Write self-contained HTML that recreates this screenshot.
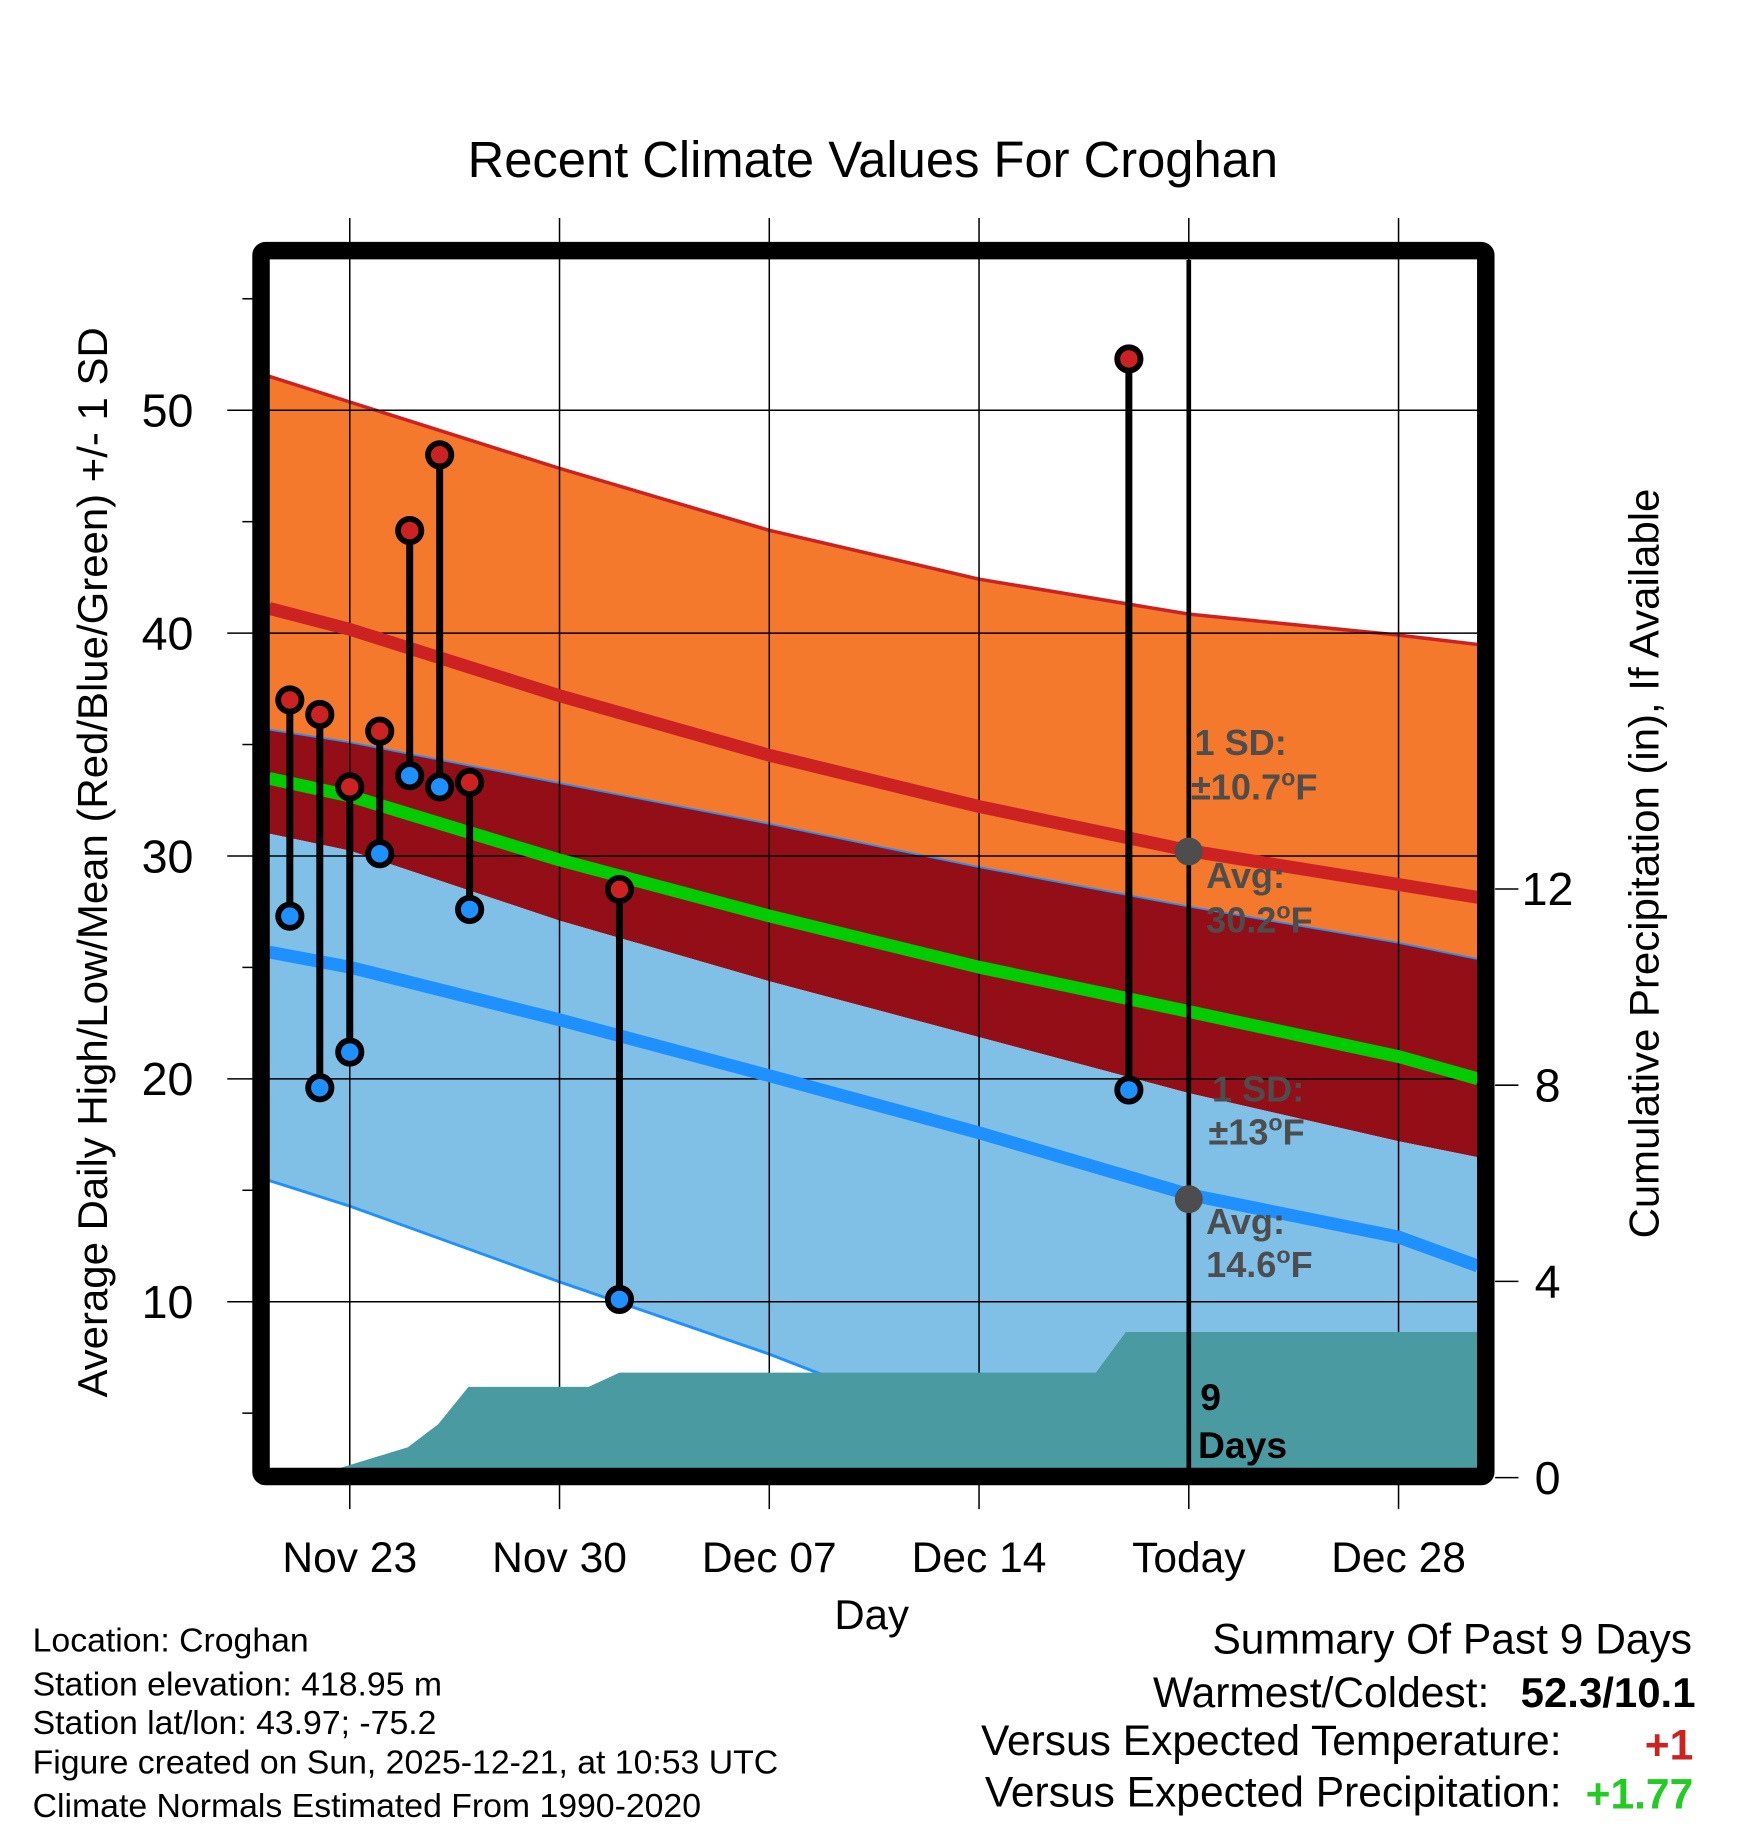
<!DOCTYPE html>
<html><head><meta charset="utf-8"><style>
html,body{margin:0;padding:0;background:#fff;}
svg{display:block;font-family:"Liberation Sans",Arial,sans-serif;}
</style></head><body>
<svg id="chart" width="1748" height="1828" viewBox="0 0 1500 1568.6" xmlns="http://www.w3.org/2000/svg">
<g id="bands"></g>
<g id="grid"></g>
<g id="precip"></g>
<g id="lines"></g>
<g id="obs"></g>
<g id="annot"></g>
<g id="axes"></g>
<text x="749" y="152" font-size="43.5" text-anchor="middle">Recent Climate Values For Croghan</text>
<text transform="translate(92,740) rotate(-90)" font-size="36" text-anchor="middle">Average Daily High/Low/Mean (Red/Blue/Green) +/- 1 SD</text>
<text transform="translate(1423,741) rotate(-90)" font-size="36" text-anchor="middle">Cumulative Precipitation (in), If Available</text>
<text x="748" y="1398" font-size="36" text-anchor="middle">Day</text>
<g font-size="29">
<text x="28" y="1417">Location: Croghan</text>
<text x="28" y="1455">Station elevation: 418.95 m</text>
<text x="28" y="1488">Station lat/lon: 43.97; -75.2</text>
<text x="28" y="1522">Figure created on Sun, 2025-12-21, at 10:53 UTC</text>
<text x="28" y="1559">Climate Normals Estimated From 1990-2020</text>
</g>
<g font-size="36.5">
<text x="1452" y="1419" text-anchor="end">Summary Of Past 9 Days</text>
<text x="1278" y="1465" text-anchor="end">Warmest/Coldest:</text>
<text x="1455" y="1465" text-anchor="end" font-weight="bold" font-size="36">52.3/10.1</text>
<text x="1340" y="1506" text-anchor="end">Versus Expected Temperature:</text>
<text x="1453" y="1510" text-anchor="end" font-weight="bold" fill="#cc2222">+1</text>
<text x="1340" y="1550" text-anchor="end">Versus Expected Precipitation:</text>
<text x="1453" y="1552" text-anchor="end" font-weight="bold" fill="#22cc22">+1.77</text>
</g>
</svg>
<script>
// ---- data ----
const normDays = [0.31, 3, 10, 17, 24, 31, 38, 40.65];
const hiPlusSD = [51.52, 50.37, 47.39, 44.61, 42.42, 40.85, 39.91, 39.49];
const avgHigh = [41.11, 40.17, 37.19, 34.52, 32.22, 30.24, 28.72, 28.14];
const hiMinusSD = [35.67, 35.10, 33.27, 31.44, 29.50, 27.73, 26.10, 25.37];
const avgMean = [33.48, 32.69, 29.82, 27.31, 25.01, 23.02, 21.0, 20.0];
const loPlusSD = [31.0, 30.24, 27.10, 24.38, 21.87, 19.36, 17.2, 16.48];
const avgLow = [25.69, 25.01, 22.65, 20.14, 17.58, 14.81, 12.9, 11.6];
const loMinusSD = [15.44, 14.29, 10.89, 7.65, 4.0, 1.2, -1.3, -2.2];
const obsDays = [1, 2, 3, 4, 5, 6, 7, 12, 29];
const obsHigh = [37.0, 36.35, 33.1, 35.6, 44.6, 48.0, 33.3, 28.5, 52.3];
const obsLow = [27.3, 19.6, 21.2, 30.1, 33.6, 33.1, 27.6, 10.1, 19.5];
const precipDays = [2.64, 4.94, 5.95, 6.96, 10.97, 12, 27.9, 28.9, 40.65];
const precipVals = [0.19, 0.62, 1.09, 1.85, 1.85, 2.14, 2.14, 2.97, 2.97];
const xTickDays = [3, 10, 17, 24, 31, 38];
const xTickLabels = ["Nov 23", "Nov 30", "Dec 07", "Dec 14", "Today", "Dec 28"];
const yTicks = [10, 20, 30, 40, 50];
const yMinorTicks = [5, 15, 25, 35, 45, 55];
const y2Ticks = [0, 4, 8, 12];
const todayDay = 31;

// ---- axes ----
const L = 231, R = 1268, T = 223, B = 1260;
const xs = d => 223 + d * 25.714;
const ys = v => 1117 - (v - 10) * 19.125;
const y2 = p => 1268 - p * 42.1;
const NS = "http://www.w3.org/2000/svg";
function mk(tag, attrs, parent) {
  const e = document.createElementNS(NS, tag);
  for (const k in attrs) e.setAttribute(k, attrs[k]);
  parent.appendChild(e);
  return e;
}
const svg = document.getElementById('chart');
const defs = mk('defs', {}, svg);
const cp = mk('clipPath', {id: 'plotclip'}, defs);
mk('rect', {x: L, y: T, width: R - L, height: B - T}, cp);
const bands = document.getElementById('bands');
bands.setAttribute('clip-path', 'url(#plotclip)');
function pts(arr) { return normDays.map((d, i) => xs(d) + ',' + ys(arr[i])); }
function band(top, bot, fill, name) {
  const p = pts(top).concat(pts(bot).reverse()).join(' ');
  const e = mk('polygon', {points: p, fill: fill}, bands);
  
  
}
band(hiPlusSD, hiMinusSD, '#f4792c', 'high-sd-band');
band(hiMinusSD, loPlusSD, '#930e16', 'overlap-band');
band(loPlusSD, loMinusSD, '#80c0e6', 'low-sd-band');
function line(arr, color, w, parent, name) {
  const e = mk('polyline', {points: pts(arr).join(' '), fill: 'none', stroke: color, 'stroke-width': w, 'stroke-linejoin': 'round'}, parent);
  
  
}
line(hiPlusSD, '#cc2222', 3, bands, 'high-plus-sd-line');
line(hiMinusSD, '#1e90ff', 1.5, bands, 'high-minus-sd-line');
line(loMinusSD, '#1e90ff', 2.5, bands, 'low-minus-sd-line');

// grid
const grid = document.getElementById('grid');
xTickDays.forEach(d => {
  const g = mk('line', {x1: xs(d), x2: xs(d), y1: 187, y2: 1295, stroke: '#000', 'stroke-width': 1.3}, grid);
  
  
});
yTicks.forEach(v => {
  const g = mk('line', {x1: 195, x2: R, y1: ys(v), y2: ys(v), stroke: '#000', 'stroke-width': 1.3}, grid);
  
  
});

// precip
const pg = document.getElementById('precip');
pg.setAttribute('clip-path', 'url(#plotclip)');
const pp = precipDays.map((d, i) => xs(d) + ',' + y2(precipVals[i]));
pp.push(xs(precipDays[precipDays.length - 1]) + ',' + B);
pp.push(xs(precipDays[0]) + ',' + B);
const pa = mk('polygon', {points: pp.join(' '), fill: '#4a9aa2'}, pg);



// normal lines
const lines = document.getElementById('lines');
lines.setAttribute('clip-path', 'url(#plotclip)');
line(avgHigh, '#cc2222', 11, lines, 'avg-high-line');
line(avgMean, '#00cc00', 11, lines, 'avg-mean-line');
line(avgLow, '#1e90ff', 11, lines, 'avg-low-line');

// today line
const tl = mk('line', {x1: xs(todayDay), x2: xs(todayDay), y1: T, y2: B, stroke: '#000', 'stroke-width': 4}, lines);



// observations
const obs = document.getElementById('obs');
obsDays.forEach((d, i) => {
  const s = mk('line', {x1: xs(d), x2: xs(d), y1: ys(obsHigh[i]), y2: ys(obsLow[i]), stroke: '#000', 'stroke-width': 6}, obs);
  
  
  const h = mk('circle', {cx: xs(d), cy: ys(obsHigh[i]), r: 10, fill: '#cc2222', stroke: '#000', 'stroke-width': 5}, obs);
  
  
  const l = mk('circle', {cx: xs(d), cy: ys(obsLow[i]), r: 10, fill: '#1e90ff', stroke: '#000', 'stroke-width': 5}, obs);
  
  
});

// annotations
const an = document.getElementById('annot');
const tx = xs(todayDay);
const d1 = mk('circle', {cx: tx, cy: ys(30.2), r: 12, fill: '#4d4d4d'}, an);


const d2 = mk('circle', {cx: tx, cy: ys(14.6), r: 12, fill: '#4d4d4d'}, an);


const labels = [
  [1025, 648, '1 SD:', ''], [1022, 686, '±10.7', 'F'], [1035, 762, 'Avg:', ''], [1035, 800, '30.2', 'F'],
  [1040, 945, '1 SD:', ''], [1037, 982, '±13', 'F'], [1035, 1059, 'Avg:', ''], [1035, 1096, '14.6', 'F']
];
labels.forEach(a => {
  const t = mk('text', {x: a[0], y: a[1], 'font-size': 31, 'font-weight': 'bold', fill: '#4d4d4d'}, an);
  t.textContent = a[2];
  if (a[3]) {
    const s = mk('tspan', {dy: -12, 'font-size': 20}, t);
    s.textContent = 'o';
    const f = mk('tspan', {dy: 12}, t);
    f.textContent = a[3];
  }
  
  
});
const n9 = mk('text', {x: 1030, y: 1210, 'font-size': 32, 'font-weight': 'bold'}, an);
n9.textContent = '9';


const nd = mk('text', {x: 1028, y: 1251, 'font-size': 32, 'font-weight': 'bold'}, an);
nd.textContent = 'Days';



// axes
const ax = document.getElementById('axes');
const fr = mk('rect', {x: 224, y: 215, width: 1051, height: 1052, fill: 'none', stroke: '#000', 'stroke-width': 15, rx: 4}, ax);


yTicks.forEach(v => {
  const t = mk('text', {x: 166, y: ys(v) + 14, 'font-size': 40, 'text-anchor': 'end'}, ax);
  t.textContent = v;
  
  
});
yMinorTicks.forEach(v => {
  if (ys(v) < T || ys(v) > B) return;
  const m = mk('line', {x1: 208, x2: 218, y1: ys(v), y2: ys(v), stroke: '#000', 'stroke-width': 1.3}, ax);
  
  
});
xTickDays.forEach((d, i) => {
  const t = mk('text', {x: xs(d), y: 1349, 'font-size': 36.5, 'text-anchor': 'middle'}, ax);
  t.textContent = xTickLabels[i];
  
  
});
y2Ticks.forEach(p => {
  const m = mk('line', {x1: 1283, x2: 1303, y1: y2(p), y2: y2(p), stroke: '#000', 'stroke-width': 1.3}, ax);
  
  
  const t = mk('text', {x: 1328, y: y2(p) + 14, 'font-size': 40, 'text-anchor': 'middle'}, ax);
  t.textContent = p;
  
  
});
</script>
</body></html>
